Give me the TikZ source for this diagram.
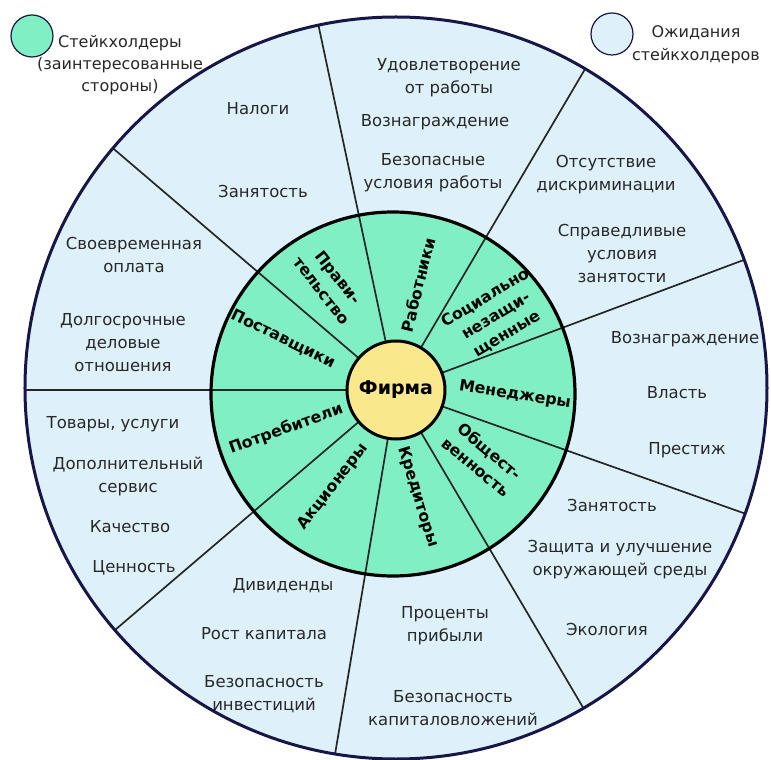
\documentclass[tikz,border=0pt]{standalone}
\usepackage{fontspec}
\setmainfont{DejaVu Sans}
\usetikzlibrary{positioning}
\definecolor{mint}{RGB}{128,240,196}
\definecolor{pale}{RGB}{222,241,251}
\definecolor{sun}{RGB}{250,232,140}
\definecolor{navy}{RGB}{22,22,72}
\definecolor{txtgray}{RGB}{40,40,40}

\begin{document}
\begin{tikzpicture}[x=1pt,y=1pt,semithick]
  \tikzstyle{wish}=[text=txtgray,font=\fontsize{16.5}{23}\selectfont,align=center,inner sep=0]
  \tikzstyle{group}=[text=black,font=\bfseries\fontsize{15.8}{21}\selectfont,align=center,inner sep=0]
  \tikzstyle{legend}=[line width=1.2pt,draw=navy]

  \useasboundingbox (-396,-370) rectangle (375,390);
  \fill[white] (-396,-370) rectangle (375,390);

  % rings
  \fill[pale] (0,2) circle (371);
  \fill[mint] (-3,-4) circle (182);
  \begin{scope}
    \clip (0,2) circle (371);
    \foreach \a in {180,139.5,102,59.5,20.5,-19.5,-59.5,-99.5,-139.5}
      \draw[line width=1.7pt,black!85] (\a:45) -- (\a:390);
  \end{scope}
  \draw[line width=3.2pt] (-3,-4) circle (182);
  \draw[line width=3pt,navy] (0,2) circle (371);
  \filldraw[fill=sun,draw=black,line width=3pt] (0,0) circle (49);

  % legend
  \filldraw[legend,fill=mint] (-364,354) circle (21);
  \filldraw[legend,fill=pale] (216,356) circle (21);
  \node[wish,font=\fontsize{16}{22}\selectfont] (legA) at (-276,325) {Стейкхолдеры\\(заинтересованные\\стороны)};
  \node[wish,font=\fontsize{16}{23}\selectfont] (legB) at (300,345) {Ожидания\\стейкхолдеров};

  % stakeholders
  \node[group,font=\bfseries\fontsize{19}{21}\selectfont] (firm) at (0,0) {Фирма};
  \node[group,rotate=-9]  (man) at (119,-5)   {Менеджеры};
  \node[group,rotate=-40] (pub) at (87,-69)   {Общест-\\венность};
  \node[group,rotate=-73] (cre) at (22,-107)  {Кредиторы};
  \node[group,rotate=52]  (sha) at (-63,-97)  {Акционеры};
  \node[group,rotate=20]  (con) at (-110,-39) {Потребители};
  \node[group,rotate=-26] (sup) at (-113,51)  {Поставщики};
  \node[group,rotate=-52] (gov) at (-66,106)  {Прави-\\тельство};
  \node[group,rotate=76]  (emp) at (22,105)   {Работники};
  \node[group,rotate=31]  (soc) at (100,74)   {Социально\\незащи-\\щенные};

  % expectations
  \node[wish] (gov1) at (-138,281) {Налоги};
  \node[wish] (gov2) at (-133,199) {Занятость};
  \node[wish] (emp1) at (53,312)   {Удовлетворение\\от работы};
  \node[wish] (emp2) at (39,268)   {Вознаграждение};
  \node[wish] (emp3) at (37,217)   {Безопасные\\условия работы};
  \node[wish] (soc1) at (210,215)  {Отсутствие\\дискриминации};
  \node[wish] (soc2) at (226,137)  {Справедливые\\условия\\занятости};
  \node[wish] (man1) at (289,51)   {Вознаграждение};
  \node[wish] (man2) at (281,-3)   {Власть};
  \node[wish] (man3) at (291,-60)  {Престиж};
  \node[wish] (pub1) at (216,-115) {Занятость};
  \node[wish] (pub2) at (224,-170) {Защита и улучшение\\окружающей среды};
  \node[wish] (pub3) at (211,-239) {Экология};
  \node[wish] (cre1) at (49,-236)  {Проценты\\прибыли};
  \node[wish] (cre2) at (57,-318)  {Безопасность\\капиталовложений};
  \node[wish] (sha1) at (-113,-196) {Дивиденды};
  \node[wish] (sha2) at (-132,-244) {Рост капитала};
  \node[wish] (sha3) at (-132,-304) {Безопасность\\инвестиций};
  \node[wish] (con1) at (-283,-34)  {Товары, услуги};
  \node[wish] (con2) at (-268,-86)  {Дополнительный\\сервис};
  \node[wish] (con3) at (-266,-137) {Качество};
  \node[wish] (con4) at (-262,-178) {Ценность};
  \node[wish] (sup1) at (-262,135)  {Своевременная\\оплата};
  \node[wish] (sup2) at (-273,47)   {Долгосрочные\\деловые\\отношения};
\end{tikzpicture}
\end{document}
